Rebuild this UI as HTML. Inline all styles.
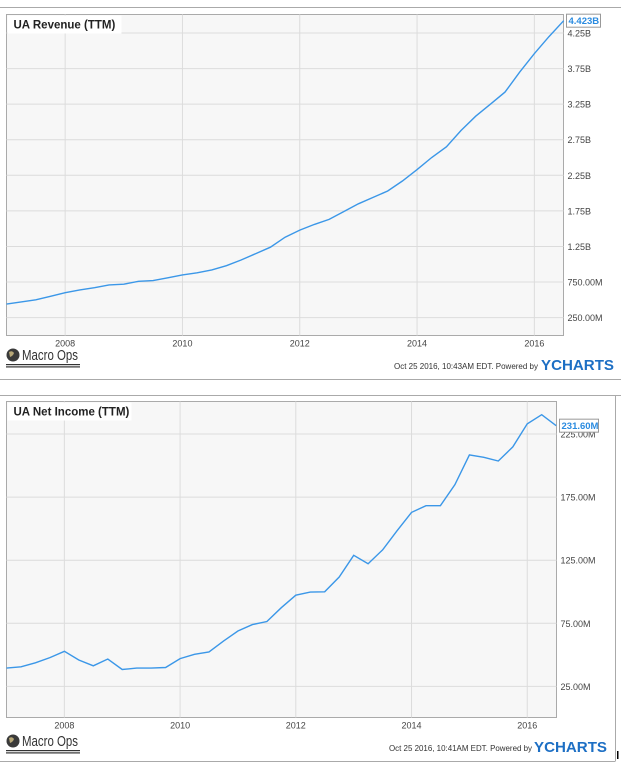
<!DOCTYPE html>
<html><head><meta charset="utf-8"><style>
html,body{margin:0;padding:0;background:#fff;}
svg{display:block;font-family:"Liberation Sans",sans-serif;}
</style></head><body>
<svg id="root" width="621" height="765" viewBox="0 0 621 765"></svg>
<script>
const years = [2008, 2010, 2012, 2014, 2016];
const revTicks = [0.25, 0.75, 1.25, 1.75, 2.25, 2.75, 3.25, 3.75, 4.25];
const revTickLabels = ["250.00M","750.00M","1.25B","1.75B","2.25B","2.75B","3.25B","3.75B","4.25B"];
const revenue = [0.44,0.47,0.50,0.55,0.60,0.64,0.67,0.71,0.72,0.76,0.77,0.81,0.85,0.88,0.92,0.98,1.06,1.15,1.24,1.38,1.48,1.56,1.63,1.74,1.85,1.94,2.03,2.17,2.33,2.50,2.65,2.88,3.08,3.25,3.42,3.70,3.96,4.20,4.423];
const niTicks = [25, 75, 125, 175, 225];
const niTickLabels = ["25.00M","75.00M","125.00M","175.00M","225.00M"];
const netIncome = [39.5,40.5,43.7,47.8,52.8,45.9,41.3,46.7,38.4,39.5,39.5,40,47,50.4,52.3,60.9,68.9,74,76.4,87.4,97.3,99.7,100,111.7,128.9,122.2,133.2,148.4,162.9,168.2,168.2,184.8,208.4,206.5,203.6,214.8,233,240.3,231.6];
const startYear = 2007.0, stepYear = 0.25;

const NS = "http://www.w3.org/2000/svg";
const root = document.getElementById('root');
function mk(tag, attrs, parent){const e=document.createElementNS(NS,tag);for(const k in attrs)e.setAttribute(k,attrs[k]);(parent||root).appendChild(e);return e;}

function drawChart(cfg){
  const g = mk('g',{});
  
  
  const x = yr => cfg.x0 + (yr - 2007) * cfg.pxPerYear;
  const y = v => cfg.yRef + (cfg.vRef - v) * cfg.pxPerUnit;
  const sep = mk('line',{x1:0,x2:621,y1:cfg.sepY,y2:cfg.sepY,stroke:'#aaa','stroke-width':1},g);
  
  
  const pa = mk('rect',{x:cfg.L,y:cfg.T,width:cfg.R-cfg.L,height:cfg.B-cfg.T,fill:'#f7f7f7',stroke:'#aaa','stroke-width':1},g);
  
  
  cfg.ticks.forEach((t,i)=>{
    const yy = y(t);
    const gl = mk('line',{x1:cfg.L,x2:cfg.R,y1:yy,y2:yy,stroke:'#dcdcdc','stroke-width':1},g);
    
    
    const tl = mk('text',{x:cfg.R+4,y:yy+3.5,'font-size':9,fill:'#444'},g);
    tl.textContent = cfg.tickLabels[i];
    
    
  });
  years.forEach(yr=>{
    const xx = x(yr);
    const gl = mk('line',{x1:xx,x2:xx,y1:cfg.T,y2:cfg.B,stroke:'#dcdcdc','stroke-width':1},g);
    
    
    const tl = mk('text',{x:xx,y:cfg.B+11,'font-size':9,fill:'#444','text-anchor':'middle'},g);
    tl.textContent = yr;
    
    
  });
  const pts = cfg.data.map((v,i)=>x(startYear+i*stepYear).toFixed(1)+','+y(v).toFixed(1)).join(' ');
  const pl = mk('polyline',{points:pts,fill:'none',stroke:'#3b97e8','stroke-width':1.4},g);
  
  
  const tb = mk('rect',{x:cfg.L+1,y:cfg.T+1,width:cfg.titleW,height:18,fill:'#fff'},g);
  
  
  const tt = mk('text',{x:cfg.L+7,y:cfg.T+14,'font-size':11.5,'font-weight':'bold',fill:'#222'},g);
  tt.textContent = cfg.title;
  
  
  const last = cfg.data[cfg.data.length-1];
  const ly = y(last);
  const lb = mk('rect',{x:cfg.R+3,y:ly-6.5,width:cfg.lastW,height:13,fill:'#fff',stroke:'#999','stroke-width':1},g);
  
  
  const lt = mk('text',{x:cfg.R+5,y:ly+3.5,'font-size':9.5,'font-weight':'bold',fill:'#2a8be0'},g);
  lt.textContent = cfg.lastLabel;
  
  
  const gl = mk('circle',{cx:13,cy:cfg.logoY,r:6.5,fill:'#3a3a3a'},g);
  
  
  mk('path',{d:`M9 ${cfg.logoY-3} q3 -2 5 1 q-1 3 -4 4 z`,fill:'#b8a878'},g);
  const lg = mk('text',{x:22,y:cfg.logoY+5,'font-size':15,fill:'#333',textLength:56,lengthAdjust:'spacingAndGlyphs'},g);
  lg.textContent = 'Macro Ops';
  
  
  mk('rect',{x:6,y:cfg.logoY+9,width:74,height:1.2,fill:'#333'},g);
  mk('rect',{x:6,y:cfg.logoY+11.3,width:74,height:1.2,fill:'#333'},g);
  const ft = mk('text',{x:cfg.footX,y:cfg.footY,'font-size':8.5,fill:'#333',textLength:cfg.footW,lengthAdjust:'spacingAndGlyphs'},g);
  ft.textContent = cfg.footer;
  
  
  const yc = mk('text',{x:cfg.ycX,y:cfg.footY+1,'font-size':15,'font-weight':'bold',fill:'#1d6fc4',textLength:73,lengthAdjust:'spacingAndGlyphs'},g);
  yc.textContent = 'YCHARTS';
  
  
  const bl = mk('line',{x1:0,x2:cfg.bottomW,y1:cfg.bottomY,y2:cfg.bottomY,stroke:'#aaa','stroke-width':1},g);
  
  
}

drawChart({name:'revenue-chart',title:'UA Revenue (TTM)',titleW:114,data:revenue,ticks:revTicks,tickLabels:revTickLabels,
  L:6.5,R:563.5,T:14.5,B:335.5,x0:6.5,pxPerYear:58.65,yRef:317.6,vRef:0.25,pxPerUnit:71.15,
  sepY:7.5,lastW:34,lastLabel:'4.423B',logoY:355,footX:394,footY:369,footW:144,ycX:541,
  footer:'Oct 25 2016, 10:43AM EDT.  Powered by',bottomY:379.5,bottomW:621});
drawChart({name:'net-income-chart',title:'UA Net Income (TTM)',titleW:124,data:netIncome,ticks:niTicks,tickLabels:niTickLabels,
  L:6.5,R:556.5,T:401.5,B:717.5,x0:6.5,pxPerYear:57.86,yRef:686.4,vRef:25,pxPerUnit:1.262,
  sepY:395.5,lastW:39,lastLabel:'231.60M',logoY:741,footX:389,footY:751,footW:143,ycX:534,
  footer:'Oct 25 2016, 10:41AM EDT.  Powered by',bottomY:761.5,bottomW:615});
const rb = mk('line',{x1:615.5,x2:615.5,y1:395.5,y2:761.5,stroke:'#aaa','stroke-width':1});


const cur = mk('rect',{x:617,y:751,width:1.5,height:8,fill:'#000'});


</script>
</body></html>
